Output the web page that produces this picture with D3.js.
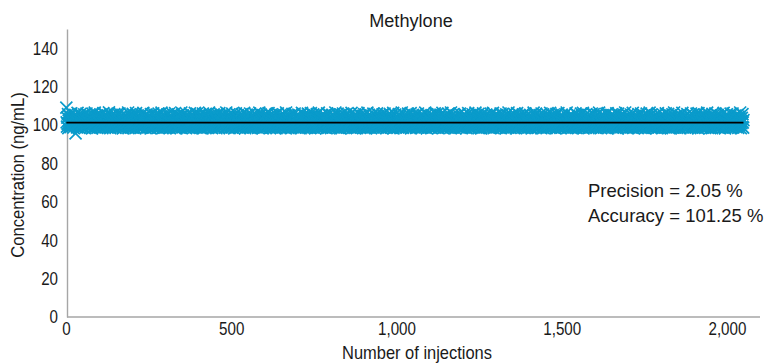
<!DOCTYPE html>
<html>
<head>
<meta charset="utf-8">
<script src="https://cdn.jsdelivr.net/npm/d3@7"></script>
<style>
  html, body { margin: 0; padding: 0; background: #fff; }
  svg { display: block; font-family: "Liberation Sans", Arial, sans-serif; }
</style>
</head>
<body>
<svg id="chart" width="765" height="364"></svg>
<script>
// Methylone concentration (ng/mL) measured on each successive injection
const concentrations = [
109.0,101.4,99.2,103.8,100.6,105.7,98.4,102.3,101.0,104.6,99.7,100.9,103.1,98.9,102.7,106.1,100.3,101.8,99.5,104.2,102.0,98.6,101.2,103.5,100.0,
102.8,99.9,105.3,95.6,101.6,103.9,100.4,98.8,102.5,106.3,101.1,99.3,104.0,100.7,102.2,98.5,103.3,101.7,105.8,99.6,100.2,102.9,104.7,98.7,101.3,
100.8,104.4,99.0,102.1,105.5,101.5,98.3,103.6,100.1,102.6,99.4,106.0,101.9,100.5,98.9,104.9,102.4,99.8,101.0,103.0,105.1,98.6,100.9,102.7,101.3,
99.5,103.7,101.8,98.2,105.9,100.3,102.0,99.1,104.3,101.2,100.6,106.4,98.8,102.9,101.4,99.7,103.4,100.0,105.0,98.5,101.6,102.3,99.3,104.8,100.7,
102.5,98.7,101.1,105.6,100.4,103.2,99.6,101.9,104.1,98.4,100.8,102.8,106.2,99.2,101.5,100.2,103.8,98.9,102.0,105.4,100.6,99.4,101.7,104.5,102.1,
98.6,101.3,103.5,100.0,106.6,99.8,102.6,101.0,98.3,104.7,100.5,102.2,99.5,105.2,101.8,100.9,98.8,103.1,102.4,99.1,105.7,100.3,101.4,103.9,98.5,
101.2,104.2,99.7,102.7,100.1,105.9,98.9,101.6,103.3,100.7,99.0,106.0,102.0,100.4,98.6,104.4,101.1,99.6,102.9,105.3,100.8,98.2,101.9,103.6,100.2,
103.0,99.3,101.5,105.1,100.6,98.7,102.5,104.9,101.0,99.9,103.7,100.0,106.5,98.4,101.8,102.3,99.5,105.5,100.9,101.3,98.8,104.0,102.6,99.2,101.7,
100.5,105.8,98.6,102.1,101.4,99.8,104.6,100.3,103.2,98.3,101.9,106.2,100.7,99.4,102.8,101.1,105.0,98.9,100.1,103.9,102.2,99.0,101.6,104.3,100.4,
98.5,102.4,105.6,101.0,99.6,103.5,100.8,98.7,106.3,101.5,99.3,102.0,104.8,100.2,101.2,98.4,103.1,105.2,99.9,101.8,100.6,102.7,98.8,104.5,100.0,
101.3,99.1,104.1,102.5,100.9,98.2,105.7,101.7,99.7,103.4,100.3,102.9,98.6,106.1,101.0,99.5,102.2,104.7,100.5,98.9,103.6,101.4,99.2,105.4,100.7,
102.6,100.1,98.5,103.0,105.9,99.8,101.1,102.3,98.7,104.2,100.4,101.9,99.4,106.4,102.0,100.8,98.3,103.8,101.6,99.0,105.1,100.2,102.8,101.2,98.6,
104.6,100.6,99.6,102.4,101.5,98.8,105.5,100.0,103.3,99.3,101.8,106.0,100.9,98.4,102.1,104.0,101.3,99.7,100.3,103.7,98.9,105.8,101.0,102.7,99.5,
100.7,103.1,98.6,101.4,106.2,99.9,102.5,100.5,98.2,104.9,101.7,99.1,103.5,100.1,105.3,98.7,102.0,101.2,99.4,104.4,100.8,102.9,98.5,106.5,101.6,
99.8,102.2,100.4,105.0,98.9,101.9,103.9,100.0,99.2,102.6,104.7,101.1,98.3,100.6,103.2,105.6,99.6,101.5,102.8,98.8,100.2,104.1,101.8,99.0,106.1,
101.0,98.6,103.4,100.9,102.3,99.5,105.2,101.3,98.4,104.5,100.3,102.7,99.7,101.4,106.3,100.5,98.7,103.0,101.9,99.3,105.9,100.7,102.1,98.9,104.8,
102.4,100.1,99.4,101.7,105.4,98.5,103.6,100.8,102.0,99.9,104.2,101.2,98.2,106.0,100.4,101.6,99.1,103.8,102.5,100.0,98.8,105.7,101.5,99.6,103.1,
100.6,104.3,98.6,101.8,102.9,100.2,99.2,106.4,101.0,98.9,103.5,100.9,105.1,99.5,102.2,101.3,98.4,104.6,100.3,102.6,99.8,105.5,101.7,98.7,103.3,
99.0,101.1,104.0,100.5,98.3,102.8,105.8,101.4,99.7,100.7,103.9,102.0,98.5,106.2,100.1,101.9,99.3,104.4,102.3,100.8,98.8,105.3,101.2,99.4,103.0,
101.6,99.9,102.4,105.0,98.6,100.4,103.7,101.0,99.1,106.5,100.2,102.7,98.9,104.8,101.5,100.6,99.6,103.2,105.6,98.4,101.8,100.0,102.5,99.2,104.1,
100.9,98.7,105.9,101.3,99.5,102.1,100.3,104.7,98.2,101.7,103.4,100.7,99.8,106.1,102.2,98.8,101.1,103.6,100.5,105.2,99.0,102.9,101.4,98.5,104.3,
102.0,100.1,98.9,103.9,101.9,99.4,105.7,100.6,102.6,98.6,104.0,101.0,99.7,106.3,100.4,101.5,98.3,103.1,102.4,100.8,99.3,105.4,101.2,99.9,102.8,
98.8,104.9,100.2,101.6,99.1,102.3,106.0,100.9,98.4,103.5,101.8,100.0,105.1,99.6,102.1,98.7,104.2,101.3,100.5,99.2,103.8,105.8,100.3,98.9,101.7,
102.7,99.5,101.1,104.6,100.7,98.5,103.0,102.0,99.8,106.4,101.4,100.1,98.6,105.5,102.5,99.0,101.9,103.7,100.6,98.2,104.4,101.0,99.4,102.2,105.0,
100.4,103.3,98.7,101.5,99.9,105.9,100.8,102.9,98.9,104.1,101.2,99.3,106.2,100.0,102.4,101.7,98.4,103.6,100.9,99.6,105.3,101.3,98.8,102.6,104.8,
101.8,99.2,102.0,100.3,98.6,104.5,101.6,99.7,103.2,105.7,100.5,98.3,102.8,101.1,99.5,106.1,100.2,103.9,98.9,101.4,102.3,100.7,99.0,105.2,101.0,
98.5,102.5,104.3,100.6,99.8,101.9,105.6,98.8,103.4,100.1,102.1,99.4,104.7,101.5,98.2,106.5,100.8,101.2,99.1,103.0,102.7,100.4,98.7,105.0,101.7,
100.0,103.8,99.6,101.3,98.4,104.0,102.2,100.9,99.3,105.8,101.0,98.9,102.6,103.5,100.5,99.7,106.0,101.8,98.6,102.4,100.2,104.6,99.2,101.6,103.1,
99.9,101.1,105.4,98.5,102.9,100.7,99.5,104.2,101.4,98.3,103.7,100.3,102.0,106.3,99.0,101.9,100.6,98.8,105.1,102.5,99.4,101.2,103.3,100.1,98.7,
104.9,100.8,99.8,102.3,101.5,98.6,105.9,100.0,103.6,99.1,101.7,104.4,100.4,98.4,102.8,106.2,101.0,99.6,100.9,103.9,98.9,102.1,105.5,100.2,101.3,
99.3,102.7,100.5,98.2,104.8,101.8,99.7,103.0,105.7,100.6,98.5,102.4,101.1,99.0,106.4,100.3,102.2,98.8,104.1,101.6,100.7,99.2,103.4,105.3,98.6,
101.4,100.1,103.8,99.5,102.0,98.7,105.0,101.9,100.4,99.9,104.5,102.6,98.3,101.0,106.1,100.8,99.4,103.2,101.2,98.9,105.6,100.2,102.9,99.1,104.0,
100.9,98.4,102.5,101.7,105.2,99.6,100.0,103.5,98.8,101.5,104.7,100.5,99.3,102.3,106.5,101.1,98.6,100.7,103.7,102.1,99.8,105.9,101.3,98.5,102.8,
99.0,104.3,100.6,101.8,98.2,103.1,105.4,100.3,99.7,102.4,101.0,98.9,106.0,100.1,103.6,99.4,101.6,104.9,100.9,98.7,102.2,101.4,99.2,105.8,100.4,
102.7,98.8,101.2,104.1,100.0,99.5,103.3,105.1,98.6,101.9,100.5,102.0,99.1,106.3,101.7,98.3,103.9,100.8,102.6,99.9,104.6,101.1,98.5,100.2,105.5,
101.5,99.6,102.9,100.7,98.4,104.4,101.3,99.0,103.0,106.2,100.3,98.9,102.5,101.8,99.3,105.0,100.6,102.1,98.7,103.8,101.0,99.8,104.8,100.1,102.3,
98.6,105.7,100.9,101.6,99.2,102.8,100.4,98.2,104.0,101.4,99.7,106.4,100.0,103.4,98.8,101.2,105.3,100.5,99.4,102.4,101.9,98.5,103.6,100.8,104.5,
99.9,101.7,100.2,98.9,105.9,102.0,99.1,103.1,100.6,101.5,98.3,104.7,102.7,100.3,99.5,106.1,101.1,98.6,102.2,103.9,100.9,99.0,105.2,101.3,98.7,
102.9,100.1,104.2,99.6,101.8,98.4,103.5,105.6,100.7,99.3,102.1,101.0,98.8,106.0,100.4,102.6,99.8,104.4,101.6,98.5,100.0,103.2,105.0,99.2,101.4,
100.6,98.9,102.3,101.2,105.8,99.4,103.7,100.2,98.6,104.9,101.9,99.7,102.8,100.8,106.3,98.2,101.5,103.0,100.5,99.1,105.4,102.4,98.7,101.7,104.1,
99.5,101.0,103.4,100.3,98.8,102.5,105.7,101.3,99.9,100.9,104.6,98.4,102.0,101.6,99.0,106.5,100.1,103.8,98.5,101.1,102.7,100.7,99.6,105.1,101.8,
102.2,99.3,100.4,104.3,98.6,101.4,103.1,100.0,99.2,105.9,102.6,98.9,101.2,104.0,100.6,99.7,102.9,106.2,98.3,101.9,100.8,103.5,99.4,101.5,105.3,
100.5,98.7,102.1,101.0,104.8,99.8,100.2,103.6,98.5,102.4,105.5,101.7,99.1,100.9,106.0,98.8,101.3,102.8,100.3,99.5,104.5,101.1,98.4,103.3,100.7,
101.6,100.0,98.6,105.0,102.3,99.6,101.8,104.2,100.4,98.9,103.0,106.4,101.4,99.3,102.0,100.6,98.2,105.6,101.0,99.9,103.9,100.1,102.7,98.7,104.7,
99.0,102.5,100.9,101.5,98.5,105.2,100.2,103.4,99.7,101.2,104.9,98.8,102.2,100.5,99.4,106.1,101.9,98.6,103.7,100.8,102.6,99.2,105.8,101.3,100.0,
102.8,98.3,101.1,104.4,100.3,99.5,102.4,105.4,98.9,101.7,100.7,103.1,99.8,106.3,101.0,98.4,102.1,104.6,100.6,99.1,103.5,101.6,98.7,105.0,100.4,
101.8,99.6,103.8,100.1,98.6,102.9,105.9,101.4,99.3,100.9,104.1,102.0,98.5,101.3,106.5,100.2,99.0,103.2,101.5,98.8,105.5,100.7,102.3,99.7,104.8,
100.0,101.9,98.2,102.6,104.3,99.4,101.0,103.6,100.5,98.9,105.3,101.7,99.9,102.2,100.8,98.6,106.0,101.2,99.5,103.9,100.3,102.5,98.4,104.5,101.1,
99.2,103.0,100.6,101.6,98.7,105.7,102.1,99.8,100.4,104.7,101.3,98.3,102.8,103.4,100.0,99.6,106.2,101.8,98.9,102.4,100.9,105.1,99.1,101.5,103.7,
101.0,98.5,102.7,100.2,105.6,99.3,101.4,104.0,100.7,98.8,103.3,101.9,99.4,106.4,100.1,102.2,98.6,104.9,101.2,99.7,100.5,103.1,105.8,98.4,101.6,
100.3,104.2,99.0,102.0,101.1,98.2,105.0,100.8,103.5,99.9,101.7,106.1,100.4,98.7,102.6,101.3,99.5,104.4,100.0,102.9,98.9,105.4,101.5,99.2,103.8,
99.8,101.2,103.2,100.6,98.6,104.6,102.3,100.1,99.3,105.9,101.0,98.5,102.5,103.9,100.9,99.6,106.3,101.4,98.3,102.1,100.7,104.8,99.1,101.8,103.0,
100.2,98.8,102.4,105.2,101.6,99.4,100.5,103.6,98.7,101.9,104.3,100.3,99.7,102.7,106.0,98.4,101.1,100.8,103.4,99.0,105.7,101.3,98.9,102.2,100.0,
104.1,101.5,99.5,102.9,100.4,98.2,105.5,101.8,99.8,103.1,100.1,102.0,98.6,106.5,101.2,99.2,104.7,100.6,102.6,98.5,103.7,101.0,99.9,105.1,100.9,
101.4,100.0,103.3,98.8,102.3,105.8,99.6,101.7,100.2,104.0,98.3,102.8,101.1,99.3,106.2,100.7,103.5,98.7,101.6,102.5,99.7,105.3,100.4,98.9,103.9,
102.1,99.1,101.3,104.5,100.5,98.6,102.0,105.6,101.9,99.4,100.8,103.2,98.4,101.5,106.1,100.3,102.7,99.8,104.9,101.0,98.5,103.6,100.1,102.4,99.5,
100.6,103.8,98.9,101.2,105.0,99.0,102.9,100.9,98.2,104.2,101.8,99.6,103.0,100.4,106.4,101.4,98.8,102.2,104.6,100.0,99.3,105.9,101.7,98.6,102.5,
101.1,99.9,104.4,100.7,98.7,102.6,101.5,105.2,99.2,100.3,103.4,102.1,98.3,106.0,100.8,101.9,99.7,103.7,105.5,98.5,101.0,100.2,102.8,99.4,104.8,
99.8,102.3,100.5,98.4,105.7,101.3,99.1,103.1,100.0,102.0,104.1,98.9,101.6,100.6,106.3,99.5,102.7,98.6,103.9,101.2,100.9,99.0,105.1,101.8,98.8,
103.5,100.1,101.4,99.6,104.7,98.2,102.4,100.4,105.8,99.3,101.7,102.9,100.7,98.7,106.2,101.0,99.8,103.3,100.2,102.1,98.5,104.3,101.5,99.9,105.4,
100.3,98.9,102.5,101.1,104.0,99.4,100.8,103.6,98.6,101.9,105.6,100.0,99.2,102.2,106.5,101.3,98.4,100.6,103.8,102.6,99.7,104.9,101.6,98.8,102.0,
101.8,99.5,103.2,100.5,98.3,105.0,102.8,100.9,99.1,104.5,101.2,98.7,102.3,103.0,100.1,99.6,106.1,101.4,98.5,102.7,100.4,105.3,99.3,101.0,103.7,
100.7,98.6,101.5,104.2,100.2,99.8,102.1,105.9,98.9,101.6,100.3,103.4,99.0,106.3,102.4,98.2,101.9,104.6,100.8,99.4,103.1,101.1,98.8,105.6,100.0,
102.9,99.7,100.6,103.9,101.3,98.4,105.2,100.9,102.5,99.2,101.8,104.8,100.1,98.7,102.0,106.0,101.4,99.5,100.5,103.5,98.6,105.7,101.0,99.9,102.6,
99.1,104.1,100.4,101.7,98.5,102.2,105.5,100.7,99.6,103.3,101.5,98.9,106.4,100.2,102.8,99.3,104.4,101.2,98.3,100.8,103.6,105.0,99.8,101.9,100.0,
102.3,98.8,101.1,104.7,100.6,99.4,103.0,101.6,98.6,105.8,100.3,102.7,99.0,106.2,101.8,98.4,102.4,103.8,100.9,99.7,104.3,101.3,98.9,102.1,105.3,
100.5,101.0,99.2,103.7,102.0,98.7,105.1,100.1,101.4,99.9,104.0,102.9,98.5,100.7,106.1,101.6,99.5,103.2,100.4,98.2,105.9,101.2,102.6,99.3,104.6,
101.9,99.6,100.2,102.5,98.9,104.9,101.0,100.8,99.1,103.4,105.6,98.6,101.7,102.2,100.0,99.8,106.5,101.3,98.8,103.9,100.6,102.4,99.4,105.2,101.1,
98.3,102.8,100.3,101.5,104.4,99.0,103.1,100.9,98.7,105.4,101.8,99.7,102.0,100.5,106.3,98.5,101.4,103.6,100.1,102.7,99.2,104.8,101.0,98.9,103.3,
100.7,99.5,104.1,101.2,98.4,102.3,105.7,100.4,99.9,101.9,103.5,98.8,102.6,100.0,106.0,101.6,99.1,104.5,100.8,98.6,103.0,102.1,99.6,105.0,101.3,
102.5,98.2,100.6,103.8,101.1,99.3,105.9,100.2,102.9,98.7,101.5,104.3,100.9,99.4,102.2,106.4,98.9,101.7,100.3,103.4,99.8,105.5,101.0,98.5,102.0,
99.7,101.4,102.8,100.5,98.6,104.7,101.8,99.0,103.6,100.1,102.4,105.1,98.3,101.2,100.7,106.2,99.5,102.6,98.8,103.9,101.6,100.4,99.2,104.9,101.9,
100.0,103.1,98.4,102.1,101.3,99.9,105.3,100.8,98.9,102.7,104.0,101.0,99.6,100.6,106.1,98.7,101.5,103.3,100.2,102.3,99.1,105.8,101.7,98.5,102.9,
101.2,99.4,104.6,100.9,98.2,102.5,103.7,101.4,99.8,105.6,100.3,98.6,102.0,101.9,106.5,99.3,100.7,103.5,98.8,101.1,104.2,100.0,102.8,99.5,105.2,
100.4,102.2,98.9,101.6,104.8,99.0,103.0,100.5,98.3,105.0,101.8,99.7,102.6,100.1,106.3,101.3,98.7,103.8,100.8,102.4,99.2,104.4,101.0,98.6,103.2,
102.7,100.6,99.4,101.5,105.7,98.5,102.1,100.2,103.6,99.9,101.2,104.9,100.9,98.4,102.3,106.0,101.7,99.6,100.3,103.9,98.8,105.4,101.1,99.1,102.5,
99.8,101.9,100.0,104.1,98.7,102.8,101.4,105.9,99.3,100.7,103.3,101.0,98.2,106.2,100.5,102.0,99.5,104.7,101.6,98.9,100.4,103.1,105.1,99.0,101.8,
101.3,98.6,103.4,100.1,102.6,99.7,105.5,100.8,98.5,104.3,101.5,99.2,102.9,100.6,106.4,98.8,101.0,103.7,100.2,102.2,99.4,104.6,101.9,98.3,103.0,
100.9,99.9,102.4,101.2,98.4,105.8,100.3,103.5,99.6,101.7,104.0,98.7,102.1,100.5,106.1,101.1,99.0,103.9,100.0,102.7,98.9,105.3,101.4,99.5,102.3,
98.5,101.6,104.5,100.7,99.1,102.5,105.0,101.8,99.8,100.4,103.2,98.6,102.0,101.3,106.3,99.3,100.9,103.6,98.2,101.5,104.8,100.1,102.8,99.7,105.6,
101.0,99.4,102.6,100.6,98.8,104.2,101.9,100.2,99.0,103.8,105.9,98.4,101.2,102.4,100.8,99.6,106.0,101.7,98.7,103.3,100.3,102.1,99.2,104.9,101.5,
100.4,103.0,98.9,101.4,105.2,99.5,102.7,100.0,98.5,104.4,101.1,99.9,103.5,100.7,106.5,101.8,98.3,102.2,100.9,103.7,99.1,105.7,101.3,98.6,102.5
];

// Injection numbers, one per measurement
const injections = concentrations.map((_, i) => i + 1);

// Mean recovery stated as accuracy (ng/mL at a 100 ng/mL nominal)
const meanConcentration = 101.25;

const yTicks = [0, 20, 40, 60, 80, 100, 120, 140];
const xTicks = [0, 500, 1000, 1500, 2000];
const chartTitle = "Methylone";
const yTitle = "Concentration (ng/mL)";
const xTitle = "Number of injections";
const statLines = ["Precision = 2.05 %", "Accuracy = 101.25 %"];

const svg = d3.select("#chart");
const W = 765, H = 364;
const plotLeft = 67, plotBottom = 317, plotTop = 29;

const x = d3.scaleLinear().domain([0, 2100]).range([66, 760]);
const y = d3.scaleLinear().domain([0, 150]).range([plotBottom, plotTop]);

const axisColor = "#a6a6a6";
const textColor = "#1a1a1a";
const markColor = "#0a9bcb";

// Narrow the glyphs horizontally while keeping their anchor point
function condense(sel, k) {
  sel.each(function () {
    const t = d3.select(this);
    const tx = +t.attr("x") || 0;
    const prev = t.attr("transform") || "";
    t.attr("x", tx / k).attr("transform", `${prev} scale(${k},1)`.trim());
  });
}

// Title
svg.append("text")
  .attr("x", 411).attr("y", 27)
  .attr("text-anchor", "middle")
  .attr("font-size", 18.5)
  .attr("fill", textColor)
  .text(chartTitle)
  .call(condense, 0.98);

// Y axis: line plus tick labels, no tick marks
const yAxis = svg.append("g")
  .attr("transform", `translate(${plotLeft},0)`)
  .call(d3.axisLeft(y).tickValues(yTicks).tickSize(0).tickPadding(9).tickFormat(d3.format("d")));
yAxis.select(".domain").attr("stroke", axisColor).attr("stroke-width", 1.4);
yAxis.selectAll("text").attr("font-size", 18.5).attr("fill", textColor).attr("font-family", null)
  .call(condense, 0.82);

// X axis
const xAxis = svg.append("g")
  .attr("transform", `translate(0,${plotBottom})`)
  .call(d3.axisBottom(x).tickValues(xTicks).tickSize(0).tickPadding(5).tickFormat(d3.format(",")));
xAxis.select(".domain").attr("stroke", axisColor).attr("stroke-width", 1.4)
  .attr("d", `M${plotLeft},0H${x.range()[1]}`);
xAxis.selectAll("text").attr("font-size", 18.5).attr("fill", textColor).attr("font-family", null)
  .call(condense, 0.82);

// Axis titles
svg.append("text")
  .attr("transform", `translate(24,175) rotate(-90)`)
  .attr("text-anchor", "middle")
  .attr("font-size", 18.5)
  .attr("fill", textColor)
  .text(yTitle)
  .call(condense, 0.9);

svg.append("text")
  .attr("x", 417).attr("y", 359)
  .attr("text-anchor", "middle")
  .attr("font-size", 18.5)
  .attr("fill", textColor)
  .text(xTitle)
  .call(condense, 0.89);

// Measurements drawn as "x" markers
const half = 6;
const markers = svg.append("g")
  .attr("stroke", markColor)
  .attr("stroke-width", 1.7)
  .attr("fill", "none");
markers.selectAll("path")
  .data(concentrations)
  .join("path")
  .attr("d", (d, i) => {
    const cx = x(injections[i]), cy = y(d);
    return `M${cx - half},${cy - half}L${cx + half},${cy + half}M${cx - half},${cy + half}L${cx + half},${cy - half}`;
  });

// Mean line across the run
svg.append("line")
  .attr("x1", x(injections[0]))
  .attr("x2", x(injections[injections.length - 1]))
  .attr("y1", y(meanConcentration))
  .attr("y2", y(meanConcentration))
  .attr("stroke", "#000")
  .attr("stroke-width", 1.6);

// Precision / accuracy summary
svg.append("g")
  .selectAll("text")
  .data(statLines)
  .join("text")
  .attr("x", 588)
  .attr("y", (d, i) => 197 + i * 25)
  .attr("font-size", 18.5)
  .attr("fill", textColor)
  .text(d => d);
</script>
</body>
</html>
